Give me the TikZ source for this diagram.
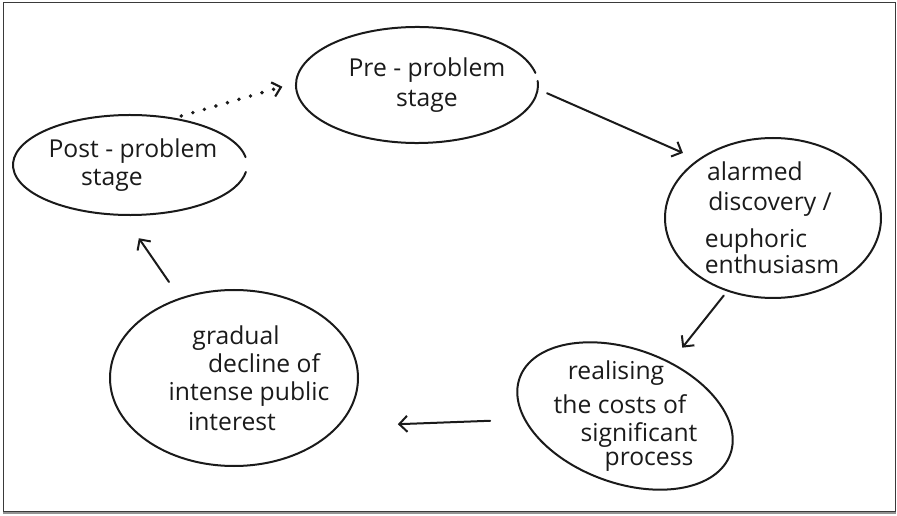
\documentclass[tikz,border=0pt]{standalone}
\usepackage{fontspec}
\setmainfont{Open Sans}
\usetikzlibrary{arrows.meta,shapes.geometric}
\definecolor{ink}{HTML}{1A1A1A}
\definecolor{framec}{HTML}{3A3A3A}
% shift one line of a centred block sideways without changing its width
\newcommand\mv[2]{\kern#1 #2\kern-#1}
\begin{document}
\begin{tikzpicture}[x=0.75pt,y=0.75pt,
  stagenode/.style={ellipse, inner sep=0pt, align=center, text=ink,
    font=\fontsize{18.5}{21}\selectfont},
  outline/.style={draw=ink, line width=1.5pt, line cap=round},
  flow/.style={draw=ink, line width=1.5pt, line cap=round,
    -{Straight Barb[length=6pt,width=12pt,line width=1.5pt]}},
  dots/.style={draw=ink, line width=2.9pt, line cap=round,
    dash pattern=on 0pt off 9pt,
    -{Straight Barb[length=6pt,width=11pt,line width=1.6pt]}}]
\useasboundingbox (0,0) rectangle (897,515);
% frame
\draw[framec, line width=1.1pt] (3.5,3) rectangle (895.5,512.5);
\draw[gray!85, line width=1.8pt] (3,2) -- (896,2);

% stages (sizes in pt = 0.75 x drawing units)
\node[stagenode, minimum width=181.5pt, minimum height=87pt] (pre) at (417,430)
  {\mv{7.5pt}{Pre - problem}\\[1.5pt]\mv{7.5pt}{stage}};
\node[stagenode, minimum width=175.5pt, minimum height=75pt] (post) at (130,350)
  {\mv{2.25pt}{Post - problem}\\\mv{-13.5pt}{stage}};
\node[stagenode, minimum width=162pt, minimum height=120pt] (alarm) at (773,297)
  {\mv{-13.5pt}{alarmed}\\[1.5pt]\mv{-2.25pt}{discovery /}\\[7pt]
   \mv{-12.75pt}{euphoric}\\[-1.5pt]\mv{-0.75pt}{enthusiasm}};
\node[stagenode, minimum width=162pt, minimum height=109.5pt] (real) at (625,99)
  {\mv{-6.75pt}{realising}\\[4pt]\mv{-3.75pt}{the costs of}\\
   \mv{10.5pt}{significant}\\[-3pt]\mv{18pt}{process}};
\node[stagenode, minimum width=186pt, minimum height=132pt] (grad) at (234,137)
  {\mv{1.5pt}{gradual}\\\mv{22.5pt}{decline of}\\
   \mv{11.25pt}{intense public}\\[1.5pt]\mv{-1.5pt}{interest}};

% hand-drawn outlines
\draw[outline] ([shift={(12:121 and 58)}]pre.center)
  arc[start angle=12, delta angle=352, x radius=121, y radius=58];
\draw[outline] ([shift={(9:117 and 50)}]post.center)
  arc[start angle=9, delta angle=343, x radius=117, y radius=50];
\draw[outline] (alarm.center) ellipse[x radius=108, y radius=80];
\draw[outline, rotate around={-20:(real.center)}] (real.center)
  ellipse[x radius=112, y radius=67];
\draw[outline] (grad.center) ellipse[x radius=124, y radius=88];

% cycle
\draw[dots, shorten <=6pt, shorten >=10.5pt] (post.47) -- (pre.179);
\draw[flow, shorten <=7.5pt, shorten >=12.75pt] (pre.-2) -- (alarm.142);
\draw[flow, shorten <=4.5pt, shorten >=1.5pt] (alarm.238.7) -- (real.50);
\draw[flow, shorten <=20pt, shorten >=45pt] (real.182) -- (grad.-25);
\draw[flow, shorten <=15pt, shorten >=21pt] (grad.124) -- (post.-98);
\end{tikzpicture}
\end{document}
